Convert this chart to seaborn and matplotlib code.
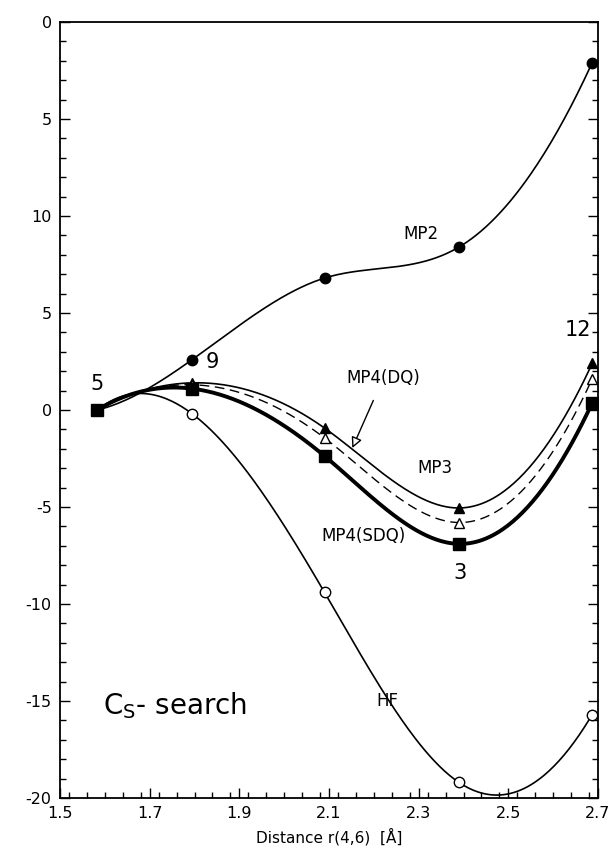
import numpy as np
import pandas as pd
import matplotlib
matplotlib.use("Agg")
import matplotlib.pyplot as plt
import seaborn as sns
from matplotlib.ticker import MultipleLocator, FixedLocator

# ---- data ----
r_points = [1.583, 1.795, 2.09, 2.39, 2.687]
hf = [0.0, -0.2, -9.4, -19.2, -15.7]
mp2 = [0.0, 2.6, 6.8, 8.4, 17.9]
mp3 = [0.0, 1.4, -0.93, -5.05, 2.4]
mp4dq = [0.0, 1.3, -1.44, -5.8, 1.6]
mp4sdq = [0.0, 1.1, -2.37, -6.9, 0.36]
ytick_values = [20, 15, 10, 5, 0, -5, -10, -15, -20]
ytick_text = ["0", "5", "10", "5", "0", "-5", "-10", "-15", "-20"]
xtick_values = [1.5, 1.7, 1.9, 2.1, 2.3, 2.5, 2.7]
xtick_text = ["1.5", "1.7", "1.9", "2.1", "2.3", "2.5", "2.7"]


def spline(x, y, n=300):
    """Cubic spline: not-a-knot at the left end, parabolic run-out at the right."""
    x = np.asarray(x, float)
    y = np.asarray(y, float)
    k = len(x)
    h = np.diff(x)
    A = np.zeros((k, k))
    b = np.zeros(k)
    A[0, 0], A[0, 1], A[0, 2] = h[1], -(h[0] + h[1]), h[0]
    A[-1, -2], A[-1, -1] = -1.0, 1.0
    for i in range(1, k - 1):
        A[i, i - 1] = h[i - 1]
        A[i, i] = 2 * (h[i - 1] + h[i])
        A[i, i + 1] = h[i]
        b[i] = 6 * ((y[i + 1] - y[i]) / h[i] - (y[i] - y[i - 1]) / h[i - 1])
    M = np.linalg.solve(A, b)
    xs = np.linspace(x[0], x[-1], n)
    ys = np.empty_like(xs)
    for j, t in enumerate(xs):
        i = min(np.searchsorted(x, t, side="right") - 1, k - 2)
        a = x[i + 1] - t
        c = t - x[i]
        ys[j] = (M[i] * a**3 / (6 * h[i]) + M[i + 1] * c**3 / (6 * h[i])
                 + (y[i] / h[i] - M[i] * h[i] / 6) * a
                 + (y[i + 1] / h[i] - M[i + 1] * h[i] / 6) * c)
    return xs, ys


sns.set_style("ticks")
plt.rcParams["font.family"] = ["DejaVu Sans"]
plt.rcParams["text.color"] = "black"

fig = plt.figure(figsize=(6.11, 8.56), dpi=100)
ax = fig.add_axes([60 / 611, 58 / 856, 538 / 611, 776 / 856])

series = [
    ("HF", hf, "-", 1.2, "o", "white"),
    ("MP2", mp2, "-", 1.2, "o", "black"),
    ("MP3", mp3, "-", 1.2, "^", "black"),
    ("MP4(DQ)", mp4dq, (0, (7, 4)), 1.0, "^", "white"),
    ("MP4(SDQ)", mp4sdq, "-", 2.8, "s", "black"),
]

for name, vals, ls, lw, mk, mfc in series:
    xs, ys = spline(r_points, vals)
    df = pd.DataFrame({"r": xs, "E": ys})
    sns.lineplot(data=df, x="r", y="E", ax=ax, color="black", lw=lw,
                 linestyle=ls, sort=False, estimator=None)

for name, vals, ls, lw, mk, mfc in series:
    ms = 8 if mk == "s" else 7.5
    ax.plot(r_points, vals, linestyle="none", marker=mk, markersize=ms,
            markerfacecolor=mfc, markeredgecolor="black", markeredgewidth=1.0,
            zorder=5)

ax.set_xlim(1.5, 2.7)
ax.set_ylim(-20, 20)
ax.xaxis.set_major_locator(FixedLocator(xtick_values))
ax.set_xticklabels(xtick_text)
ax.xaxis.set_minor_locator(MultipleLocator(0.04))
ax.yaxis.set_major_locator(FixedLocator(ytick_values))
ax.set_yticklabels(ytick_text)
ax.yaxis.set_minor_locator(MultipleLocator(1))
ax.tick_params(which="both", direction="in", right=True, top=False,
               labelsize=11.5, width=1, colors="black", labelcolor="black")
ax.tick_params(which="major", length=7, pad=6)
ax.tick_params(which="minor", length=4)
for s in ax.spines.values():
    s.set_linewidth(1.3)
    s.set_color("black")

ax.set_xlabel("Distance r(4,6)  [Å]", fontsize=11, labelpad=5, color="black")
ax.set_ylabel("")

# point numbers
ax.text(1.583, 1.35, "5", fontsize=15, ha="center", va="center", color="black")
ax.text(1.84, 2.45, "9", fontsize=15, ha="center", va="center", color="black")
ax.text(2.393, -8.4, "3", fontsize=15, ha="center", va="center", color="black")
ax.text(2.656, 4.1, "12", fontsize=15, ha="center", va="center", color="black")

# curve labels
ax.text(2.304, 9.07, "MP2", fontsize=12, ha="center", va="center", color="black")
ax.text(2.337, -3.0, "MP3", fontsize=12, ha="center", va="center", color="black")
ax.text(2.176, -6.5, "MP4(SDQ)", fontsize=12, ha="center", va="center", color="black")
ax.text(2.23, -15.0, "HF", fontsize=12, ha="center", va="center", color="black")
ax.annotate("MP4(DQ)", xy=(2.152, -1.96), xytext=(2.221, 1.65),
            fontsize=12, ha="center", va="center", color="black",
            arrowprops=dict(arrowstyle="-|>", fc="white", ec="black",
                            lw=1.0, mutation_scale=16, shrinkA=8, shrinkB=0))
ax.text(1.757, -15.26, r"C$_{\mathrm{S}}$- search", fontsize=20,
        ha="center", va="center", color="black")

fig.savefig("out.png", dpi=100)
